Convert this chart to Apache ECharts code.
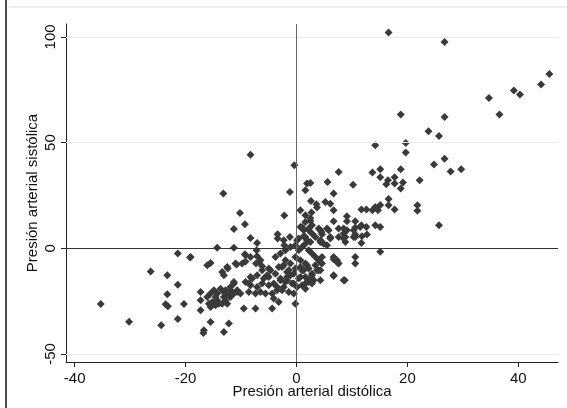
<!DOCTYPE html>
<html><head><meta charset="utf-8">
<script src="https://cdn.jsdelivr.net/npm/echarts@6/dist/echarts.min.js"></script>
<style>html,body{margin:0;padding:0;background:#fff}#c{width:567px;height:408px}</style>
</head><body><div id="c"></div>
<script>
// Presión arterial distólica (x) / sistólica (y) pairs
const diastolic = [
 16.6,26.7,45.6,44.1,39.2,40.3,34.7,36.6,18.8,26.7,23.8,25.7,19.7,19.7,14.2,24.8,26.7,27.8,29.7,22.2,18.8,17.7,16.5,16.2,17.7,19.2,18.8,15.1,15.1,16.6,16.6,17.7,21.8,21.8,25.7,15.1,15.1,15.1,
 7.6,5.6,10.2,13.7,6.7,5.2,6.1,6.7,11.7,12.6,13.7,14.2,14.7,9.1,9.1,6.7,10.6,11.7,10.6,12.6,
 5.5,4.3,7.6,8.5,9.1,4.6,6.1,7.6,8.5,10.3,12.7,11.7,10.6,4.3,4.9,5.5,
 4.3,4.3,6.7,7.3,7.6,10.6,10.6,6.7,8.7,
 -8.3,-0.4,-13.2,-1.2,1.9,2.5,1.6,-10.2,-9.3,-11.3,-2.2,2.6,3.6,3.7,0.7,1.6,0.7,2.5,1.3,2.2,2.8,1.3,1.9,0.1,-3.4,-3.4,-1.2,-2.2,-2.3,-8.3,-7.1,-11.3,-14.3,-19.1,-15.5,-16.1,-9.2,-7.1,-6.8,-9.2,
 4.5,5.8,6.1,8.5,10.3,11.5,14.2,8.8,10.6,8.8,11.8,6.7,7.3,
 -12.5,-11.0,-9.8,-13.1,-13.4,
 -17.3,-17.3,-17.3,-16.1,-15.8,-15.5,-14.9,-14.3,-14.3,-13.7,-13.1,-13.1,-12.5,-11.9,-11.3,-11.3,-10.7,-10.1,-15.5,-14.6,-13.4,-12.5,
 -16.7,-15.5,-13.1,-12.2,-9.5,-7.4,-4.4,
 -8.6,-7.4,-6.5,-5.6,-8.3,-7.1,-6.2,-5.0,-4.1,-9.2,-8.0,-7.1,-6.2,-5.9,-5.0,-4.7,-3.8,-3.2,-2.3,-2.9,-3.5,-4.4,-4.1,-3.2,-2.3,-1.7,-1.1,-1.7,-0.5,-0.5,-0.5,
 0.7,1.3,1.9,0.7,1.6,2.2,3.1,2.8,4.0,4.6,6.7,8.5,-0.2,
 -3.8,-2.9,-2.0,-1.1,-0.2,0.4,1.0,1.6,2.2,2.8,3.4,4.0,4.6,-2.0,-1.1,-0.2,0.7,1.6,-2.6,-1.4,-0.2,1.0,2.2,3.4,-1.7,0.4,1.6,2.8,3.7,-2.9,-2.0,-0.8,0.1,1.0,2.2,2.8,-3.5,-2.6,-1.4,1.6,2.8,4.3,
 -12.4,-10.8,-9.3,-8.3,-7.2,-6.5,-7.3,-6.2,-5.0,-5.3,-8.3,-8.6,
 -11.3,-11.9,-12.8,-14.6,-15.2,-14.0,-12.8,-11.9,-10.7,
 1.0,1.6,2.2,2.8,4.0,3.4,1.6,0.4,2.5,4.3,2.7,2.5,
 -21.4,-19.2,-26.3,-23.3,-21.4,-23.3,-23.6,-23.2,-20.3,-35.3,-30.2,-24.4,-21.4,-16.8
];
const systolic = [
 102.1,97.6,82.5,77.5,74.6,72.7,71.1,63.3,63.3,62.1,55.4,53.1,49.8,45.3,48.7,39.6,42.4,36.3,37.4,32.2,37.4,33.6,32.2,30.3,30.6,31.1,28.3,37.4,33.6,23.3,20.4,18.3,20.4,17.7,10.9,20.5,10.1,-1.7,
 36.1,31.4,30.1,35.8,25.9,21.9,21.1,18.0,18.3,18.3,18.0,19.5,18.0,15.1,12.8,12.8,12.8,10.9,9.8,10.1,
 9.3,8.5,9.3,9.3,8.5,6.6,5.3,5.3,4.6,5.3,6.5,2.5,6.5,3.8,2.2,1.4,
 -6.5,-10.4,-5.2,-6.5,-7.2,-4.1,-7.2,-13.1,-15.1,
 44.2,39.3,25.9,26.6,30.6,30.9,27.4,16.7,11.4,9.1,15.5,22.4,20.8,19.3,18.0,15.6,10.1,12.9,8.5,9.3,7.0,5.7,3.8,3.8,6.6,4.6,5.3,1.4,3.8,4.9,2.5,0.3,0.3,-4.1,-7.0,-8.0,-3.3,-3.8,-6.5,-6.2,
 7.7,8.5,4.6,7.0,8.5,10.1,10.9,3.0,5.3,5.3,5.7,-4.1,-5.7,
 -8.8,-7.2,-7.2,-12.8,-11.2,
 -20.7,-24.6,-29.3,-23.1,-26.2,-21.4,-19.9,-21.4,-24.6,-19.1,-20.7,-23.1,-21.4,-19.9,-16.7,-21.4,-19.9,-21.4,-27.8,-27.0,-26.2,-26.2,
 -38.8,-34.9,-39.6,-35.6,-28.5,-28.5,-28.5,
 -20.7,-21.4,-20.7,-21.4,-17.5,-18.3,-16.7,-17.5,-16.7,-15.9,-14.3,-12.8,-10.4,-14.3,-13.6,-10.4,-12.0,-8.8,-8.0,-15.1,-19.9,-21.4,-23.8,-25.4,-18.3,-15.1,-12.8,-11.2,-12.0,-16.7,-21.4,
 -8.8,-10.4,-8.0,-13.6,-16.7,-15.1,-15.1,-12.8,-10.4,-7.2,-12.8,-15.1,-26.2,
 -4.1,-2.5,-0.9,0.6,1.4,-0.9,0.6,2.2,-0.9,-2.5,-4.1,-5.7,-4.1,-5.7,-7.2,-4.1,-5.7,-7.2,-8.8,-10.4,-9.6,-10.4,-9.6,-8.0,-13.6,-14.3,-13.6,-12.0,-10.4,-14.3,-15.9,-16.7,-18.3,-17.5,-15.9,-14.3,-18.3,-19.9,-20.7,-19.1,-16.7,-15.1,
 -9.6,-7.7,-2.8,-4.1,-0.9,-5.7,-7.2,-8.5,-9.6,-12.8,-13.6,-16.7,
 -15.9,-18.3,-19.9,-23.1,-25.4,-26.2,-24.6,-23.1,-20.7,
 10.1,12.4,8.5,10.9,9.3,5.3,5.3,4.6,3.0,3.0,16.9,14.2,
 -2.5,-4.4,-11.0,-12.8,-17.2,-21.8,-26.5,-27.4,-26.4,-26.4,-34.7,-36.4,-33.5,-40.1
];
const xTicks = [-40, -20, 0, 20, 40];
const yTicks = [-50, 0, 50, 100];
const yGridValues = [-50, 50, 100];
const xTitle = 'Presión arterial distólica';
const yTitle = 'Presión arterial sistólica';

const points = diastolic.map((d, i) => [d, systolic[i]]);
const FONT = '"Liberation Sans", Arial, sans-serif';
const TXT = '#111';
const chart = echarts.init(document.getElementById('c'), null, {renderer: 'canvas'});
chart.setOption({
  animation: false,
  backgroundColor: '#fff',
  grid: {left: 66, right: 9, top: 24, bottom: 46, containLabel: false},
  xAxis: {
    type: 'value', min: -41.57, max: 47.16,
    axisLine: {show: true, onZero: false, lineStyle: {color: '#222', width: 1}},
    axisTick: {show: true, customValues: xTicks, length: 5, lineStyle: {color: '#222'}},
    axisLabel: {customValues: xTicks, color: TXT, fontSize: 15, fontFamily: FONT, margin: 9},
    splitLine: {show: false},
    name: xTitle, nameLocation: 'middle', nameGap: 22, nameMoveOverlap: false,
    nameTextStyle: {color: TXT, fontSize: 15, fontFamily: FONT}
  },
  yAxis: {
    type: 'value', min: -53.8, max: 106.1,
    axisLine: {show: true, onZero: false, lineStyle: {color: '#222', width: 1}},
    axisTick: {show: true, customValues: yTicks, length: 5, lineStyle: {color: '#222'}},
    axisLabel: {customValues: yTicks, color: TXT, fontSize: 15, fontFamily: FONT, margin: 8, rotate: 90},
    splitLine: {show: false},
    name: yTitle, nameLocation: 'middle', nameGap: 26, nameRotate: 90, nameMoveOverlap: false,
    nameTextStyle: {color: TXT, fontSize: 15, fontFamily: FONT}
  },
  graphic: [
    {type: 'line', shape: {x1: 6, y1: 0, x2: 6, y2: 408}, style: {stroke: '#111', lineWidth: 1.5}},
    {type: 'line', shape: {x1: 9, y1: 7, x2: 567, y2: 7}, style: {stroke: '#eeeeee', lineWidth: 2}}
  ],
  series: [
    {
      type: 'scatter', data: [], z: 1, silent: true,
      markLine: {
        silent: true, symbol: 'none', label: {show: false}, animation: false,
        data: yGridValues.map(v => ({yAxis: v, lineStyle: {color: '#eaeaea', width: 1, type: 'solid'}}))
          .concat([
            {yAxis: 0, lineStyle: {color: '#333', width: 1, type: 'solid'}},
            {xAxis: 0, lineStyle: {color: '#666', width: 1, type: 'solid'}}
          ])
      }
    },
    {
      type: 'scatter', data: points, z: 3,
      symbol: 'diamond', symbolSize: 8,
      itemStyle: {color: '#3a3a3a', opacity: 1}
    }
  ]
});
</script>
</body></html>
